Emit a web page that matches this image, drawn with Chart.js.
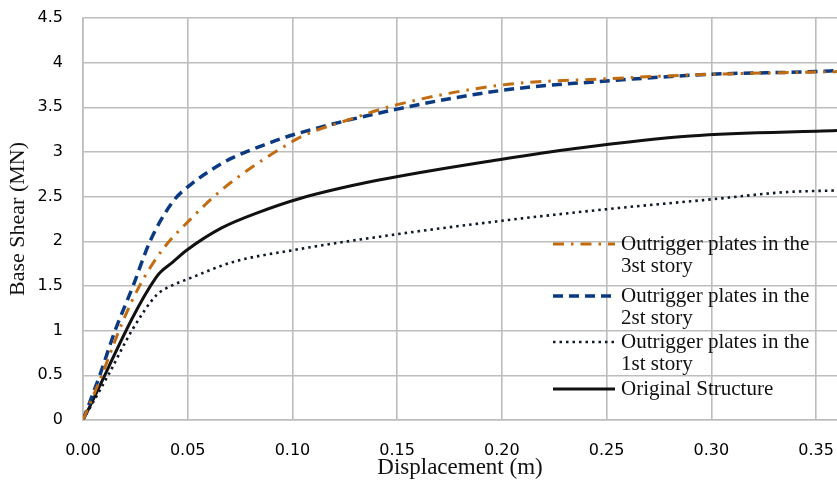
<!DOCTYPE html>
<html>
<head>
<meta charset="utf-8">
<script src="https://cdn.jsdelivr.net/npm/chart.js@4"></script>
<style>
  html, body { margin: 0; padding: 0; background: #fff; }
  #wrap { width: 837px; height: 482px; }
</style>
</head>
<body>
<div id="wrap"><canvas id="myChart" width="837" height="482"></canvas></div>
<script>
// values
const xTicks = [0, 0.05, 0.10, 0.15, 0.20, 0.25, 0.30, 0.35];
const yTicks = [0, 0.5, 1, 1.5, 2, 2.5, 3, 3.5, 4, 4.5];

const x3rd = [0, 0.0081, 0.0193, 0.0272, 0.0384, 0.051, 0.0654, 0.0813, 0.0973, 0.104, 0.128, 0.15, 0.20, 0.25, 0.30, 0.35, 0.36];
const y3rd = [0, 0.45, 1.12, 1.51, 1.92, 2.24, 2.56, 2.84, 3.08, 3.17, 3.37, 3.53, 3.75, 3.82, 3.87, 3.895, 3.90];

const x2nd = [0, 0.008, 0.0153, 0.0239, 0.032, 0.0431, 0.0511, 0.0654, 0.0718, 0.0877, 0.10, 0.15, 0.20, 0.25, 0.30, 0.35, 0.36];
const y2nd = [0, 0.5, 1.0, 1.5, 2.0, 2.45, 2.63, 2.86, 2.94, 3.09, 3.19, 3.48, 3.69, 3.795, 3.87, 3.90, 3.91];

const x1st = [0, 0.012, 0.0233, 0.0352, 0.042, 0.0503, 0.0718, 0.10, 0.15, 0.20, 0.25, 0.30, 0.335, 0.36];
const y1st = [0, 0.5, 1.0, 1.40, 1.50, 1.58, 1.77, 1.90, 2.08, 2.23, 2.36, 2.47, 2.55, 2.57];

const xOrig = [0, 0.035, 0.043, 0.0495, 0.0662, 0.0845, 0.1036, 0.14, 0.20, 0.235, 0.29, 0.36];
const yOrig = [0, 1.60, 1.77, 1.90, 2.15, 2.33, 2.48, 2.68, 2.92, 3.04, 3.18, 3.24];

const seriesNames = [
    ['Outrigger plates in the', '3st story'],
    ['Outrigger plates in the', '2st story'],
    ['Outrigger plates in the', '1st story'],
    ['Original Structure']
];

function pts(xs, ys) {
    return xs.map((x, i) => ({ x: x, y: ys[i] }));
}

const serif = "'Liberation Serif', 'Times New Roman', serif";
const sans = "'DejaVu Sans', sans-serif";

// legend drawn inside the plot, multi-line labels
const insideLegend = {
    id: 'insideLegend',
    afterDatasetsDraw(chart) {
        const ctx = chart.ctx;
        const rows = [244, 296, 342, 389];
        const lineH = 22.5;
        ctx.save();
        ctx.font = '21px ' + serif;
        ctx.textBaseline = 'middle';
        ctx.fillStyle = '#111';
        chart.data.datasets.forEach((ds, i) => {
            const y = rows[i];
            ctx.beginPath();
            ctx.strokeStyle = ds.borderColor;
            ctx.lineWidth = ds.borderWidth;
            ctx.setLineDash(ds.borderDash || []);
            ctx.moveTo(553, y);
            ctx.lineTo(615, y);
            ctx.stroke();
            ctx.setLineDash([]);
            seriesNames[i].forEach((t, k) => {
                ctx.fillText(t, 621, y + k * lineH);
            });
        });
        ctx.restore();
    }
};

function noPad(s) {
    s.paddingLeft = 0;
    s.paddingRight = 0;
    s.paddingTop = 0;
    s.paddingBottom = 0;
}

const ctx = document.getElementById('myChart').getContext('2d');
new Chart(ctx, {
    type: 'line',
    data: {
        datasets: [{
            label: seriesNames[0].join(' '),
            data: pts(x3rd, y3rd),
            borderColor: '#C26C12',
            borderWidth: 3,
            borderDash: [11, 7, 2.5, 7]
        }, {
            label: seriesNames[1].join(' '),
            data: pts(x2nd, y2nd),
            borderColor: '#0B3A82',
            borderWidth: 3.5,
            borderDash: [10, 6]
        }, {
            label: seriesNames[2].join(' '),
            data: pts(x1st, y1st),
            borderColor: '#101828',
            borderWidth: 2.6,
            borderDash: [2.5, 4]
        }, {
            label: seriesNames[3].join(' '),
            data: pts(xOrig, yOrig),
            borderColor: '#111111',
            borderWidth: 3
        }]
    },
    options: {
        responsive: false,
        animation: false,
        layout: { padding: { top: 18, right: 0, left: 0, bottom: 0 } },
        elements: {
            point: { radius: 0 },
            line: { cubicInterpolationMode: 'monotone' }
        },
        plugins: {
            legend: { display: false },
            tooltip: { enabled: false }
        },
        scales: {
            x: {
                type: 'linear',
                min: 0,
                max: 0.36,
                afterFit: (s) => { s.height = 62; noPad(s); },
                afterBuildTicks: (s) => { s.ticks = xTicks.map(v => ({ value: v })); },
                ticks: {
                    padding: 21,
                    maxRotation: 0,
                    color: '#000',
                    font: { family: sans, size: 16 },
                    callback: (v) => v.toFixed(2)
                },
                grid: { color: '#bdbdbd', lineWidth: 1.6, drawTicks: false },
                border: { color: '#bdbdbd', width: 1.6 },
                title: {
                    display: true,
                    text: 'Displacement (m)',
                    color: '#111',
                    font: { family: serif, size: 23 },
                    padding: { top: 0, bottom: 0 }
                }
            },
            y: {
                type: 'linear',
                min: 0,
                max: 4.5,
                afterFit: (s) => { s.width = 83; noPad(s); },
                afterBuildTicks: (s) => { s.ticks = yTicks.map(v => ({ value: v })); },
                ticks: {
                    padding: 20,
                    color: '#000',
                    font: { family: sans, size: 16 },
                    callback: (v) => String(v)
                },
                grid: { color: '#bdbdbd', lineWidth: 1.6, drawTicks: false },
                border: { color: '#bdbdbd', width: 1.6 },
                title: {
                    display: true,
                    text: 'Base Shear (MN)',
                    color: '#111',
                    font: { family: serif, size: 22 },
                    padding: { top: 5, bottom: 0 }
                }
            }
        }
    },
    plugins: [insideLegend]
});
</script>
</body>
</html>
